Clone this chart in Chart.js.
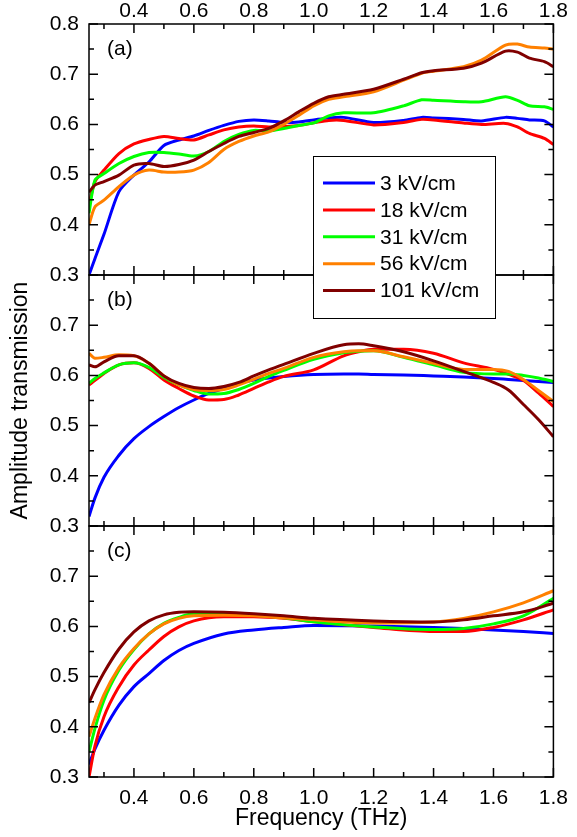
<!DOCTYPE html>
<html>
<head>
<meta charset="utf-8">
<script src="https://cdn.jsdelivr.net/npm/chart.js@4.4.1/dist/chart.umd.min.js"></script>
<style>
  body { margin: 0; background: #fff; }
</style>
</head>
<body>
<canvas id="chart" width="577" height="837"></canvas>
<script>
const seriesLabels = ['3 kV/cm', '18 kV/cm', '31 kV/cm', '56 kV/cm', '101 kV/cm'];
const seriesColors = ['#0000ff', '#ff0000', '#00ff00', '#ff8000', '#800000'];
const panelNames = ['(a)', '(b)', '(c)'];

const xTicks = [0.4, 0.6, 0.8, 1.0, 1.2, 1.4, 1.6, 1.8];
const xMinor = [0.3, 0.5, 0.7, 0.9, 1.1, 1.3, 1.5, 1.7];
const yTicksA = [0.3, 0.4, 0.5, 0.6, 0.7, 0.8];
const yTicksBC = [0.3, 0.4, 0.5, 0.6, 0.7];
const yMinor = [0.35, 0.45, 0.55, 0.65, 0.75];

// panel (a)
const freqA = [0.25, 0.27, 0.3, 0.35, 0.4, 0.45, 0.5, 0.55, 0.6, 0.65, 0.7, 0.75, 0.8, 0.85, 0.9, 0.95, 1.0, 1.05, 1.1, 1.2, 1.3, 1.36, 1.4, 1.5, 1.56, 1.64, 1.68, 1.72, 1.77, 1.8];
const a3   = [0.30, 0.333, 0.381, 0.466, 0.499, 0.525, 0.558, 0.569, 0.577, 0.588, 0.598, 0.606, 0.609, 0.607, 0.604, 0.605, 0.609, 0.613, 0.614, 0.604, 0.608, 0.614, 0.613, 0.610, 0.607, 0.614, 0.612, 0.609, 0.607, 0.595];
const a18  = [0.44, 0.486, 0.509, 0.542, 0.561, 0.570, 0.576, 0.572, 0.569, 0.579, 0.589, 0.595, 0.597, 0.595, 0.596, 0.598, 0.603, 0.608, 0.608, 0.599, 0.604, 0.610, 0.609, 0.603, 0.600, 0.602, 0.595, 0.582, 0.572, 0.560];
const a31  = [0.423, 0.489, 0.502, 0.522, 0.536, 0.544, 0.544, 0.541, 0.537, 0.546, 0.566, 0.580, 0.588, 0.587, 0.592, 0.598, 0.603, 0.617, 0.623, 0.623, 0.637, 0.649, 0.648, 0.645, 0.645, 0.655, 0.648, 0.637, 0.635, 0.630];
const a56  = [0.40, 0.436, 0.449, 0.476, 0.499, 0.509, 0.505, 0.505, 0.509, 0.524, 0.550, 0.566, 0.577, 0.585, 0.600, 0.618, 0.637, 0.650, 0.655, 0.665, 0.688, 0.702, 0.706, 0.715, 0.728, 0.758, 0.760, 0.754, 0.752, 0.750];
const a101 = [0.465, 0.479, 0.486, 0.499, 0.519, 0.522, 0.516, 0.520, 0.529, 0.546, 0.562, 0.576, 0.584, 0.592, 0.607, 0.625, 0.642, 0.655, 0.660, 0.670, 0.690, 0.703, 0.707, 0.712, 0.722, 0.746, 0.744, 0.732, 0.725, 0.715];

// panel (b)
const freqB = [0.25, 0.27, 0.3, 0.35, 0.4, 0.45, 0.5, 0.55, 0.6, 0.65, 0.7, 0.75, 0.8, 0.85, 0.9, 1.0, 1.1, 1.15, 1.2, 1.3, 1.4, 1.5, 1.6, 1.65, 1.7, 1.75, 1.8];
const b3   = [0.319, 0.356, 0.397, 0.441, 0.474, 0.498, 0.518, 0.536, 0.551, 0.564, 0.574, 0.584, 0.591, 0.595, 0.598, 0.602, 0.603, 0.603, 0.602, 0.601, 0.599, 0.597, 0.594, 0.592, 0.590, 0.588, 0.586];
const b18  = [0.581, 0.590, 0.604, 0.621, 0.625, 0.614, 0.591, 0.574, 0.559, 0.551, 0.552, 0.561, 0.574, 0.587, 0.598, 0.611, 0.639, 0.647, 0.652, 0.652, 0.644, 0.625, 0.612, 0.602, 0.590, 0.565, 0.538];
const b31  = [0.584, 0.594, 0.605, 0.621, 0.625, 0.616, 0.596, 0.581, 0.570, 0.563, 0.564, 0.572, 0.584, 0.598, 0.610, 0.632, 0.645, 0.648, 0.649, 0.636, 0.621, 0.606, 0.603, 0.603, 0.600, 0.595, 0.588];
const b56  = [0.644, 0.634, 0.636, 0.641, 0.639, 0.624, 0.599, 0.581, 0.572, 0.570, 0.572, 0.581, 0.592, 0.604, 0.614, 0.636, 0.647, 0.649, 0.649, 0.637, 0.624, 0.612, 0.612, 0.608, 0.592, 0.570, 0.548];
const b101 = [0.621, 0.617, 0.627, 0.639, 0.639, 0.624, 0.599, 0.584, 0.576, 0.574, 0.578, 0.586, 0.599, 0.611, 0.622, 0.644, 0.661, 0.663, 0.659, 0.647, 0.629, 0.608, 0.586, 0.571, 0.542, 0.512, 0.478];

// panel (c)
const freqC = [0.25, 0.27, 0.3, 0.35, 0.4, 0.45, 0.5, 0.55, 0.6, 0.7, 0.8, 0.9, 1.0, 1.2, 1.4, 1.5, 1.6, 1.7, 1.8];
const c3   = [0.325, 0.356, 0.393, 0.443, 0.480, 0.506, 0.532, 0.552, 0.566, 0.585, 0.593, 0.598, 0.602, 0.601, 0.598, 0.596, 0.593, 0.590, 0.586];
const c18  = [0.30, 0.362, 0.42, 0.48, 0.523, 0.553, 0.580, 0.599, 0.611, 0.619, 0.619, 0.616, 0.609, 0.598, 0.590, 0.590, 0.598, 0.613, 0.633];
const c31  = [0.35, 0.397, 0.453, 0.513, 0.554, 0.585, 0.606, 0.618, 0.625, 0.625, 0.622, 0.617, 0.609, 0.599, 0.594, 0.596, 0.605, 0.621, 0.656];
const c56  = [0.38, 0.417, 0.464, 0.518, 0.556, 0.585, 0.605, 0.616, 0.621, 0.622, 0.621, 0.617, 0.613, 0.607, 0.609, 0.616, 0.629, 0.647, 0.671];
const c101 = [0.448, 0.474, 0.508, 0.555, 0.589, 0.611, 0.623, 0.628, 0.629, 0.628, 0.625, 0.621, 0.616, 0.611, 0.609, 0.613, 0.621, 0.629, 0.646];

const FONT = 'Liberation Sans, Arial, sans-serif';
Chart.defaults.font.family = FONT;
Chart.defaults.color = '#000';

const panels = [
  { axis: 'ya', freq: freqA, series: [a3, a18, a31, a56, a101], tension: 0.25, mode: 'default' },
  { axis: 'yb', freq: freqB, series: [b3, b18, b31, b56, b101], tension: 0.4, mode: 'monotone' },
  { axis: 'yc', freq: freqC, series: [c3, c18, c31, c56, c101], tension: 0.4, mode: 'monotone' }
];

const datasets = [];
panels.forEach(p => {
  p.series.forEach((vals, i) => {
    datasets.push({
      label: seriesLabels[i],
      data: vals.map((v, k) => ({ x: p.freq[k], y: v })),
      xAxisID: 'x',
      yAxisID: p.axis,
      borderColor: seriesColors[i],
      borderWidth: 3,
      pointRadius: 0,
      fill: false,
      tension: p.tension,
      cubicInterpolationMode: p.mode,
      order: 5 - i
    });
  });
});

const fixTicks = vals => scale => { scale.ticks = vals.map(v => ({ value: v })); };
const tickFont = { size: 21 };

function xScale(position) {
  return {
    type: 'linear',
    position: position,
    min: 0.25,
    max: 1.8,
    afterBuildTicks: fixTicks(xTicks),
    afterFit: s => { s.height = position === 'bottom' ? 60 : 24; },
    grid: { display: false, drawTicks: false },
    border: { display: false },
    ticks: {
      font: tickFont, padding: position === 'bottom' ? 9 : 0,
      maxRotation: 0, autoSkip: false,
      callback: v => v.toFixed(1)
    },
    title: {
      display: position === 'bottom',
      text: 'Frequency (THz)',
      font: { size: 23 },
      padding: { top: 0, bottom: 5 }
    }
  };
}

function yScale(ticks, title) {
  return {
    type: 'linear',
    position: 'left',
    stack: 'panels',
    stackWeight: 1,
    min: 0.3,
    max: 0.8,
    afterBuildTicks: fixTicks(ticks),
    afterFit: s => { s.width = 89; },
    grid: { display: false, drawTicks: false },
    border: { display: false },
    ticks: { font: tickFont, padding: 10, autoSkip: false, callback: v => v.toFixed(1) },
    title: {
      display: !!title,
      text: title || '',
      font: { size: 23 },
      padding: { top: 7, bottom: 0 }
    }
  };
}

const framePlugin = {
  id: 'frame',
  afterDatasetsDraw(chart) {
    const ctx = chart.ctx;
    const x = chart.scales.x;
    ctx.save();
    ctx.strokeStyle = '#000';
    ctx.lineWidth = 1.5;
    ['ya', 'yb', 'yc'].forEach((id, n) => {
      const y = chart.scales[id];
      const top = y.top, bottom = y.bottom, left = x.left, right = x.right;
      ctx.strokeRect(left, top, right - left, bottom - top);
      ctx.beginPath();
      const xt = (vals, len) => vals.forEach(v => {
        const px = x.getPixelForValue(v);
        ctx.moveTo(px, top); ctx.lineTo(px, top + len);
        ctx.moveTo(px, bottom); ctx.lineTo(px, bottom - len);
      });
      const yt = (vals, len) => vals.forEach(v => {
        const py = y.getPixelForValue(v);
        ctx.moveTo(left, py); ctx.lineTo(left + len, py);
        ctx.moveTo(right, py); ctx.lineTo(right - len, py);
      });
      xt(xTicks, 9);
      xt(xMinor, 5);
      yt(yTicksA, 9);
      yt(yMinor, 5);
      ctx.stroke();

      ctx.fillStyle = '#000';
      ctx.font = '21px ' + FONT;
      ctx.textAlign = 'left';
      ctx.textBaseline = 'middle';
      ctx.fillText(panelNames[n], left + 18, top + 25);
    });
    ctx.restore();
  },
  afterDraw(chart) {
    const ctx = chart.ctx;
    const area = chart.chartArea;
    const bx = area.left + 224, by = area.top + 132, bw = 182, bh = 162;
    ctx.save();
    ctx.fillStyle = '#fff';
    ctx.fillRect(bx, by, bw, bh);
    ctx.strokeStyle = '#000';
    ctx.lineWidth = 1;
    ctx.strokeRect(bx + 0.5, by + 0.5, bw, bh);
    ctx.font = '21px ' + FONT;
    ctx.textAlign = 'left';
    ctx.textBaseline = 'middle';
    seriesLabels.forEach((lab, i) => {
      const ly = by + 27 + i * 26.9;
      ctx.strokeStyle = seriesColors[i];
      ctx.lineWidth = 3;
      ctx.beginPath();
      ctx.moveTo(bx + 10, ly);
      ctx.lineTo(bx + 62, ly);
      ctx.stroke();
      ctx.fillStyle = '#000';
      ctx.fillText(lab, bx + 67, ly + 1);
    });
    ctx.restore();
  }
};

new Chart(document.getElementById('chart').getContext('2d'), {
  type: 'line',
  data: { datasets: datasets },
  options: {
    responsive: false,
    animation: false,
    layout: { padding: { left: 0, right: 18, top: 0, bottom: 0 } },
    plugins: { legend: { display: false }, tooltip: { enabled: false } },
    scales: {
      x: xScale('bottom'),
      x2: xScale('top'),
      yc: yScale(yTicksBC),
      yb: yScale(yTicksBC, 'Amplitude transmission'),
      ya: yScale(yTicksA)
    }
  },
  plugins: [framePlugin]
});
</script>
</body>
</html>
